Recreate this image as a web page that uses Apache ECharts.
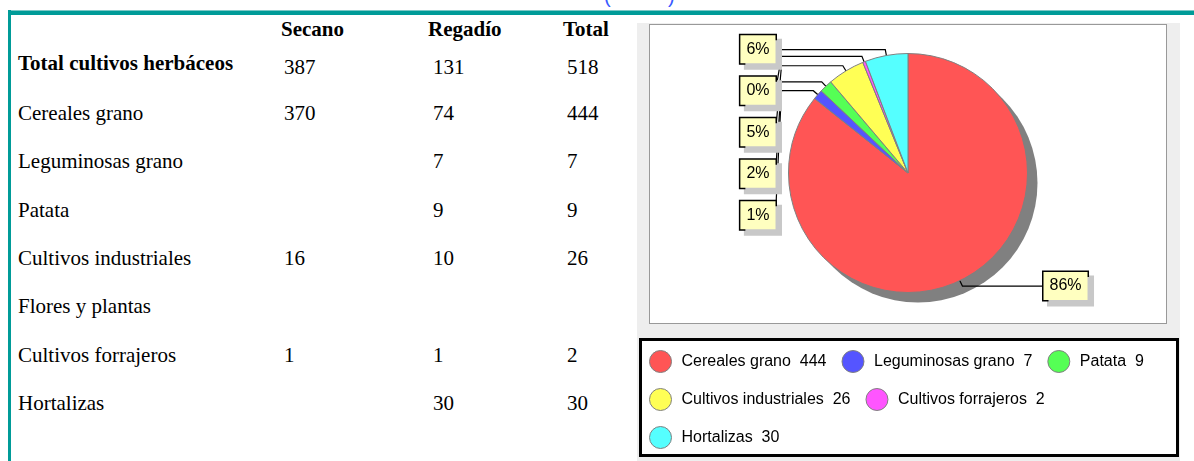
<!DOCTYPE html>
<html>
<head>
<meta charset="utf-8">
<script src="https://cdn.jsdelivr.net/npm/echarts@6/dist/echarts.min.js"></script>
<style>
html, body { margin: 0; padding: 0; background: #fff; width: 1194px; height: 461px; overflow: hidden; }
body { position: relative; }
.t { position: absolute; font-family: "Liberation Serif", "Times New Roman", serif; font-size: 21px; line-height: 24px; color: #000; white-space: nowrap; }
.b { font-weight: bold; }
.p { position: absolute; top: -15px; font-family: "Liberation Sans", Arial, sans-serif; font-size: 20px; color: #3a5bff; }
#topbar { position: absolute; left: 8px; top: 10px; width: 1186px; height: 4px; background: #009b98; border-top: 1px solid #7cc8c6; }
#leftbar { position: absolute; left: 8px; top: 10px; width: 3px; height: 451px; background: #009b98; }
#panel { position: absolute; left: 637px; top: 23px; width: 543px; height: 438px; background: #eeeeee; }
#plot { position: absolute; left: 649px; top: 24px; width: 516px; height: 298px; background: #fff; border: 1px solid #999; }
#legbox { position: absolute; left: 639px; top: 338px; width: 534px; height: 113px; background: #fff; border: 3px solid #000; }
#chart { position: absolute; left: 0; top: 0; width: 1194px; height: 461px; }
</style>
</head>
<body>
<div id="topbar"></div>
<div id="leftbar"></div>
<span class="p" style="left:604px">(</span>
<span class="p" style="left:668px">)</span>
<div id="panel"></div>
<div id="plot"></div>
<div id="legbox"></div>
<div id="table"></div>
<div id="chart"></div>
<script>
// tabla
var headers = ['Secano', 'Regadío', 'Total'];
var rowLabels = ['Total cultivos herbáceos', 'Cereales grano', 'Leguminosas grano', 'Patata',
                 'Cultivos industriales', 'Flores y plantas', 'Cultivos forrajeros', 'Hortalizas'];
var secano  = [387, 370, null, null, 16, null, 1, null];
var regadio = [131, 74, 7, 9, 10, null, 1, 30];
var totales = [518, 444, 7, 9, 26, null, 2, 30];

// gráfico
var pieCats = ['Cereales grano', 'Leguminosas grano', 'Patata', 'Cultivos industriales', 'Cultivos forrajeros', 'Hortalizas'];
var pieValues = [444, 7, 9, 26, 2, 30];
var pieColors = ['#ff5555', '#5555ff', '#55ff55', '#ffff55', '#ff55ff', '#55ffff'];

function addText(txt, x, yc, bold) {
    var d = document.createElement('div');
    d.className = bold ? 't b' : 't';
    d.style.left = x + 'px';
    d.style.top = (yc - 12) + 'px';
    d.textContent = txt;
    document.getElementById('table').appendChild(d);
}

function buildTable() {
    var headerX = [281, 428, 563];
    var colX = [284, 433, 567];
    headers.forEach(function (h, i) { addText(h, headerX[i], 29, true); });
    rowLabels.forEach(function (lab, i) {
        var yc = i === 0 ? 63 : 113 + (i - 1) * 48.33;
        var yv = i === 0 ? 67 : yc;
        addText(lab, 18, yc, i === 0);
        [secano, regadio, totales].forEach(function (col, c) {
            if (col[i] != null) addText(String(col[i]), colX[c], yv, false);
        });
    });
}

function initChart() {
    var cx = 908, cy = 173, R = 119.5;
    var total = pieValues.reduce(function (a, b) { return a + b; }, 0);

    // ángulo medio de cada sector (desde las 12, sentido horario)
    var mids = [], cum = 0;
    pieValues.forEach(function (v) {
        mids.push(Math.PI / 2 - 2 * Math.PI * (cum + v / 2) / total);
        cum += v;
    });
    var leftOrder = [];
    mids.forEach(function (a, i) { if (Math.cos(a) < 0) leftOrder.push(i); });
    leftOrder.sort(function (a, b) { return Math.sin(mids[b]) - Math.sin(mids[a]); });

    var chart = echarts.init(document.getElementById('chart'));
    chart.setOption({
        animation: false,
        color: pieColors,
        legend: {
            data: pieCats,
            left: 649,
            top: 350,
            width: 515,
            padding: 0,
            itemWidth: 22,
            itemHeight: 22,
            itemGap: 15,
            icon: 'circle',
            selectedMode: false,
            itemStyle: { borderColor: '#808080', borderWidth: 1 },
            formatter: function (name) {
                return name + '  ' + pieValues[pieCats.indexOf(name)];
            },
            textStyle: { fontFamily: '"Liberation Sans", Arial, sans-serif', fontSize: 16, color: '#000', padding: [0, 0, 0, 5] }
        },
        series: [
            {
                type: 'pie',
                name: 'sombra',
                silent: true,
                z: 1,
                center: [cx + 10, cy + 10],
                radius: R,
                data: [{ name: 'sombra', value: total }],
                itemStyle: { color: '#808080' },
                label: { show: false },
                labelLine: { show: false }
            },
            {
                type: 'pie',
                z: 2,
                center: [cx, cy],
                radius: R,
                startAngle: 90,
                clockwise: true,
                avoidLabelOverlap: false,
                data: pieCats.map(function (n, i) { return { name: n, value: pieValues[i] }; }),
                itemStyle: { borderColor: '#808080', borderWidth: 1 },
                emphasis: { scale: false },
                label: {
                    show: true,
                    position: 'outside',
                    formatter: function (p) { return Math.round(p.percent) + '%'; },
                    fontFamily: '"Liberation Sans", Arial, sans-serif',
                    fontSize: 16,
                    lineHeight: 16,
                    color: '#000',
                    backgroundColor: '#ffffc0',
                    borderColor: '#000',
                    borderWidth: 1.5,
                    padding: [6, 6],
                    shadowColor: '#c8c8c8',
                    shadowBlur: 0,
                    shadowOffsetX: 5,
                    shadowOffsetY: 5
                },
                labelLine: { show: true, lineStyle: { color: '#000', width: 1.2 } },
                labelLayout: function (p) {
                    var i = p.dataIndex;
                    var dx = Math.cos(mids[i]), dy = -Math.sin(mids[i]);
                    var ax = cx + dx * R * 0.9, ay = cy + dy * R * 0.9;
                    var ex = cx + dx * R * 1.05, ey = cy + dy * R * 1.05;
                    if (dx >= 0) {
                        var lx = cx + R + 16;
                        return { x: lx, y: ey, align: 'left', verticalAlign: 'middle',
                                 labelLinePoints: [[ax, ay], [ex, ey], [lx, ey]] };
                    }
                    var k = leftOrder.indexOf(i);
                    var ly = cy - R * 1.035 + k * 41.5;
                    var rx = cx - R - 13;
                    var jx = cx - R - 7;
                    return { x: rx, y: ly, align: 'right', verticalAlign: 'middle',
                             labelLinePoints: [[ax, ay], [ex, ey], [jx, ey], [rx, ly]] };
                }
            }
        ]
    });
}

buildTable();
initChart();
</script>
</body>
</html>
